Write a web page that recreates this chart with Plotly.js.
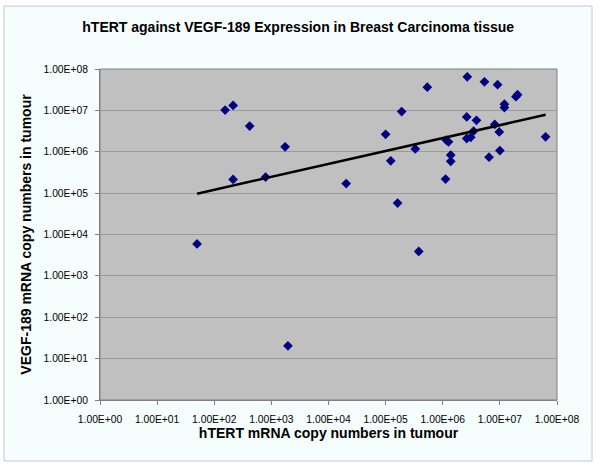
<!DOCTYPE html>
<html>
<head>
<meta charset="utf-8">
<script src="https://cdn.plot.ly/plotly-3.0.1.min.js"></script>
<style>html,body{margin:0;padding:0;background:#fff;}#chart{width:600px;height:469px;}</style>
</head>
<body>
<div id="chart"></div>
<script>
// hTERT mRNA copy numbers (x) and VEGF-189 mRNA copy numbers (y) per tumour
const hTERT = [50, 155, 214, 417, 1740, 214, 794, 1950, 2.04e4, 1.0e5, 1.23e5, 1.91e5, 3.80e5, 5.37e5, 3.31e5,
  1.15e6, 1.26e6, 1.38e6, 1.38e6, 1.12e6, 2.69e6, 2.63e6, 3.89e6, 2.63e6, 3.09e6, 3.47e6, 5.37e6, 6.46e6,
  8.13e6, 9.12e6, 9.77e6, 1.0e7, 1.20e7, 1.20e7, 1.91e7, 2.04e7, 6.31e7, 1.62e5];
const vegf189 = [5900, 1.02e7, 1.32e7, 4.17e6, 1.32e6, 2.14e5, 2.45e5, 20.4, 1.70e5, 2.63e6, 6.03e5, 9.33e6, 3890, 3.63e7, 1.17e6,
  1.91e6, 1.74e6, 8.32e5, 5.89e5, 2.19e5, 6.46e7, 6.92e6, 5.75e6, 2.09e6, 2.24e6, 3.16e6, 4.90e7, 7.41e5,
  4.57e6, 4.17e7, 3.02e6, 1.07e6, 1.41e7, 1.17e7, 2.14e7, 2.40e7, 2.29e6, 5.75e4];
const tickVals = [1, 10, 100, 1e3, 1e4, 1e5, 1e6, 1e7, 1e8];
const tickText = ['1.00E+00','1.00E+01','1.00E+02','1.00E+03','1.00E+04','1.00E+05','1.00E+06','1.00E+07','1.00E+08'];

// power trendline (least squares in log-log space)
const lx = hTERT.map(Math.log10), ly = vegf189.map(Math.log10);
const n = lx.length;
const mx = lx.reduce((a,b)=>a+b,0)/n, my = ly.reduce((a,b)=>a+b,0)/n;
let sxy = 0, sxx = 0;
for (let i = 0; i < n; i++) { sxy += (lx[i]-mx)*(ly[i]-my); sxx += (lx[i]-mx)*(lx[i]-mx); }
const slope = sxy/sxx, icpt = my - slope*mx;
const xmin = Math.min(...hTERT), xmax = Math.max(...hTERT);
const trendX = [xmin, xmax];
const trendY = trendX.map(v => Math.pow(10, icpt + slope*Math.log10(v)));

const font = "'Liberation Sans', Arial, sans-serif";
const data = [
  {x: hTERT, y: vegf189, type: 'scatter', mode: 'markers',
   marker: {symbol: 'diamond', size: 7.5, color: '#000080'}, cliponaxis: false},
  {x: trendX, y: trendY, type: 'scatter', mode: 'lines',
   line: {color: '#000000', width: 2.5}}
];
const layout = {
  width: 600, height: 469,
  margin: {l: 100, r: 43, t: 69, b: 69},
  paper_bgcolor: '#ffffff', plot_bgcolor: 'rgba(0,0,0,0)',
  showlegend: false,
  font: {family: font, color: '#000000', size: 10},
  title: {text: '<b>hTERT against VEGF-189 Expression in Breast Carcinoma tissue</b>',
          font: {family: font, size: 14, color: '#000'}, x: 0.497, xanchor: 'center', y: 0.943, yanchor: 'middle'},
  xaxis: {type: 'log', range: [0, 8], tickvals: tickVals, ticktext: tickText,
          showgrid: false, zeroline: false, showline: true, linecolor: '#808080', linewidth: 1,
          ticks: 'outside', ticklen: 4, tickcolor: '#808080', tickfont: {size: 10.3, family: font},
          ticklabelstandoff: 6,
          title: {text: '<b>hTERT mRNA copy numbers in tumour</b>', font: {size: 14, family: font}, standoff: 2}},
  yaxis: {type: 'log', range: [0, 8], tickvals: tickVals, ticktext: tickText,
          showgrid: true, gridcolor: '#9a9a9a', gridwidth: 1, zeroline: false,
          showline: true, linecolor: '#808080', linewidth: 1,
          ticks: 'outside', ticklen: 4, tickcolor: '#808080', tickfont: {size: 10.3, family: font},
          ticklabelstandoff: 5,
          title: {text: '<b>VEGF-189 mRNA copy numbers in tumour</b>', font: {size: 14, family: font}, standoff: 8}},
  shapes: [
    {type: 'rect', xref: 'paper', yref: 'paper', x0: -0.2101, x1: 1.0766, y0: -0.1843, y1: 1.1903,
     fillcolor: '#f6fdfd', line: {color: '#c8c8c8', width: 1}, layer: 'below'},
    {type: 'rect', xref: 'paper', yref: 'paper', x0: 0, x1: 1, y0: 0, y1: 1,
     fillcolor: '#c0c0c0', line: {color: '#808080', width: 1}, layer: 'below'}
  ]
};
Plotly.newPlot('chart', data, layout, {displayModeBar: false, staticPlot: true});
</script>
</body>
</html>
